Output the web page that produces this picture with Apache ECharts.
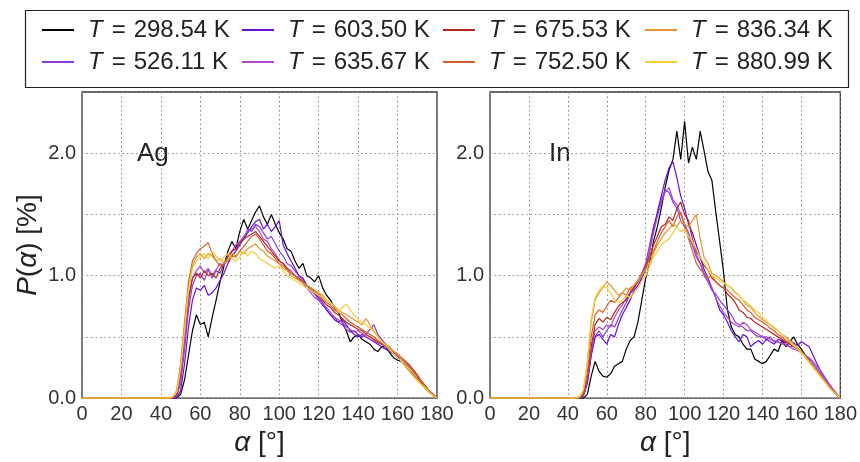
<!DOCTYPE html>
<html>
<head>
<meta charset="utf-8">
<script src="https://cdn.jsdelivr.net/npm/echarts@6/dist/echarts.min.js"></script>
<style>html,body{margin:0;padding:0;background:#fff}#c{width:860px;height:462px}</style>
</head>
<body>
<div id="c"></div>
<script>
// Angle grid (degrees)
const alpha = [0,2,4,6,8,10,12,14,16,18,20,22,24,26,28,30,32,34,36,38,40,42,44,46,48,50,52,54,56,58,60,62,64,66,68,70,72,74,76,78,80,82,84,86,88,90,92,94,96,98,100,102,104,106,108,110,112,114,116,118,120,122,124,126,128,130,132,134,136,138,140,142,144,146,148,150,152,154,156,158,160,162,164,166,168,170,172,174,176,178,180];

const temperatures = ['298.54','526.11','603.50','635.67','675.53','752.50','836.34','880.99'];
const legendRow1 = ['298.54','603.50','675.53','836.34'];
const legendRow2 = ['526.11','635.67','752.50','880.99'];
const colors = ['#000000','#8a3cd6','#6410d8','#b048c8','#b4281c','#d4602e','#e6962c','#f2cf3e'];

const xTicks = [0,20,40,60,80,100,120,140,160,180];
const yTickLabels = ['0.0','1.0','2.0'];

// ---- Ag panel ----
const ag_298 = [0,0,0,0,0,0,0,0,0,0,0,0,0,0,0,0,0,0,0,0,0,0,0,
 0,0,0.03,0.15,0.35,0.55,0.68,0.6,0.62,0.5,
 0.66,0.8,0.95,1.08,1.2,1.28,1.22,1.36,1.46,1.38,
 1.45,1.52,1.57,1.48,1.42,1.5,1.42,1.35,1.3,1.22,
 1.2,1.12,1.06,1.1,1.0,0.98,0.95,1.0,0.9,0.84,
 0.8,0.74,0.7,0.62,0.55,0.46,0.5,0.52,0.48,0.46,
 0.44,0.4,0.38,0.42,0.42,0.37,0.33,0.31,0.3,0.26,
 0.22,0.19,0.16,0.12,0.08,0.05,0.02,0];
const ag_526 = [0,0,0,0,0,0,0,0,0,0,0,0,0,0,0,0,0,0,0,0,0,0,0,
 0,0.01,0.12,0.4,0.72,0.92,1.0,1.02,0.96,1.05,
 0.98,1.04,1.02,1.1,1.15,1.2,1.22,1.28,1.3,1.38,
 1.36,1.42,1.4,1.35,1.3,1.32,1.26,1.2,1.16,1.1,
 1.08,1.04,1.0,0.96,0.92,0.88,0.85,0.8,0.76,0.72,
 0.68,0.66,0.62,0.6,0.56,0.54,0.55,0.52,0.5,0.52,
 0.56,0.6,0.52,0.48,0.44,0.4,0.36,0.34,0.32,0.3,
 0.26,0.22,0.18,0.14,0.1,0.06,0.03,0];
const ag_603 = [0,0,0,0,0,0,0,0,0,0,0,0,0,0,0,0,0,0,0,0,0,0,0,
 0,0,0.06,0.28,0.58,0.8,0.9,0.88,0.92,0.84,
 0.86,0.9,0.96,1.02,1.1,1.16,1.2,1.25,1.3,1.35,
 1.4,1.44,1.46,1.38,1.42,1.36,1.4,1.45,1.25,1.18,
 1.12,1.06,1.0,0.98,0.92,0.9,0.86,0.82,0.78,0.72,
 0.68,0.64,0.62,0.64,0.6,0.55,0.52,0.5,0.52,0.5,
 0.48,0.46,0.44,0.42,0.4,0.38,0.36,0.33,0.32,0.28,
 0.26,0.22,0.18,0.13,0.09,0.06,0.03,0];
const ag_635 = [0,0,0,0,0,0,0,0,0,0,0,0,0,0,0,0,0,0,0,0,0,0,0,
 0,0.02,0.15,0.45,0.78,0.98,1.04,1.08,1.02,1.06,
 1.0,1.05,1.1,1.08,1.15,1.2,1.25,1.28,1.32,1.36,
 1.38,1.4,1.36,1.3,1.28,1.22,1.18,1.12,1.1,1.06,
 1.04,1.0,0.96,0.94,0.9,0.86,0.82,0.8,0.76,0.74,
 0.7,0.66,0.64,0.62,0.58,0.56,0.54,0.55,0.53,0.5,
 0.48,0.47,0.45,0.44,0.42,0.4,0.37,0.35,0.32,0.3,
 0.26,0.22,0.18,0.14,0.1,0.06,0.03,0];
const ag_675 = [0,0,0,0,0,0,0,0,0,0,0,0,0,0,0,0,0,0,0,0,0,0,0,
 0,0.03,0.2,0.52,0.82,0.98,1.02,0.98,1.04,1.0,
 1.02,0.98,1.06,1.1,1.16,1.2,1.22,1.26,1.3,1.32,
 1.34,1.36,1.32,1.28,1.24,1.2,1.16,1.12,1.1,1.06,
 1.02,1.0,0.98,0.95,0.92,0.9,0.86,0.84,0.8,0.76,
 0.74,0.7,0.68,0.65,0.62,0.6,0.58,0.56,0.55,0.52,
 0.5,0.48,0.46,0.44,0.43,0.4,0.38,0.36,0.33,0.3,
 0.27,0.23,0.19,0.14,0.1,0.06,0.03,0];
const ag_752 = [0,0,0,0,0,0,0,0,0,0,0,0,0,0,0,0,0,0,0,0,0,0,0,
 0.01,0.06,0.28,0.62,0.95,1.12,1.18,1.22,1.24,1.27,
 1.18,1.12,1.08,1.1,1.12,1.16,1.15,1.2,1.24,1.28,
 1.32,1.34,1.3,1.25,1.2,1.18,1.14,1.1,1.08,1.05,
 1.02,1.0,0.97,0.95,0.92,0.9,0.88,0.85,0.82,0.78,
 0.76,0.72,0.7,0.68,0.65,0.62,0.6,0.58,0.56,0.54,
 0.52,0.5,0.47,0.45,0.43,0.41,0.38,0.36,0.33,0.3,
 0.26,0.22,0.18,0.14,0.1,0.06,0.03,0];
const ag_836 = [0,0,0,0,0,0,0,0,0,0,0,0,0,0,0,0,0,0,0,0,0,0,0,
 0.01,0.05,0.26,0.58,0.9,1.08,1.15,1.18,1.14,1.18,
 1.16,1.12,1.14,1.1,1.14,1.18,1.16,1.2,1.18,1.22,
 1.24,1.26,1.22,1.2,1.16,1.14,1.12,1.1,1.06,1.04,
 1.0,0.98,0.96,0.94,0.92,0.9,0.88,0.86,0.84,0.8,
 0.78,0.75,0.72,0.7,0.68,0.66,0.64,0.62,0.6,0.65,
 0.6,0.55,0.5,0.46,0.44,0.42,0.38,0.36,0.32,0.28,
 0.24,0.2,0.16,0.12,0.09,0.05,0.02,0];
const ag_880 = [0,0,0,0,0,0,0,0,0,0,0,0,0,0,0,0,0,0,0,0,0,0,0,
 0.01,0.05,0.24,0.55,0.88,1.06,1.12,1.15,1.18,1.14,
 1.2,1.16,1.12,1.15,1.18,1.14,1.12,1.15,1.2,1.16,
 1.2,1.18,1.14,1.12,1.1,1.08,1.06,1.08,1.04,1.0,
 0.98,0.96,0.94,0.92,0.9,0.88,0.86,0.84,0.82,0.8,
 0.78,0.75,0.7,0.74,0.77,0.72,0.68,0.64,0.62,0.6,
 0.57,0.54,0.5,0.46,0.43,0.4,0.36,0.33,0.3,0.26,
 0.22,0.18,0.14,0.11,0.08,0.05,0.02,0];

// ---- In panel ----
const in_298 = [0,0,0,0,0,0,0,0,0,0,0,0,0,0,0,0,0,0,0,0,0,0,0,
 0,0,0.03,0.18,0.3,0.22,0.18,0.17,0.2,0.26,
 0.28,0.3,0.4,0.47,0.5,0.62,0.8,0.98,1.1,1.28,
 1.4,1.55,1.72,1.86,1.95,2.18,1.95,2.26,1.92,2.05,
 1.95,2.18,2.02,1.85,1.78,1.52,1.28,1.03,0.72,0.58,
 0.52,0.5,0.44,0.4,0.4,0.32,0.3,0.28,0.3,0.35,
 0.4,0.38,0.47,0.42,0.46,0.5,0.44,0.4,0.35,0.3,
 0.26,0.22,0.18,0.14,0.1,0.06,0.03,0];
const in_526 = [0,0,0,0,0,0,0,0,0,0,0,0,0,0,0,0,0,0,0,0,0,0,0,
 0,0.02,0.12,0.35,0.5,0.55,0.5,0.55,0.6,0.58,
 0.65,0.72,0.78,0.85,0.9,0.95,1.02,1.1,1.25,1.4,
 1.5,1.62,1.7,1.68,1.6,1.55,1.45,1.4,1.32,1.25,
 1.15,1.1,1.0,0.95,0.88,0.85,0.8,0.76,0.72,0.68,
 0.62,0.6,0.58,0.55,0.55,0.52,0.5,0.5,0.48,0.5,
 0.46,0.46,0.45,0.44,0.42,0.43,0.4,0.38,0.35,0.32,
 0.28,0.24,0.2,0.15,0.11,0.07,0.03,0];
const in_603 = [0,0,0,0,0,0,0,0,0,0,0,0,0,0,0,0,0,0,0,0,0,0,0,
 0,0.02,0.12,0.35,0.5,0.52,0.48,0.44,0.52,0.5,
 0.6,0.68,0.74,0.8,0.88,0.92,0.98,1.05,1.2,1.38,
 1.52,1.65,1.78,1.88,1.93,1.8,1.65,1.55,1.42,1.35,
 1.25,1.15,1.05,0.98,0.9,0.82,0.72,0.68,0.62,0.55,
 0.5,0.46,0.52,0.5,0.42,0.45,0.47,0.44,0.48,0.46,
 0.44,0.48,0.47,0.45,0.47,0.45,0.43,0.46,0.44,0.42,
 0.35,0.28,0.22,0.17,0.12,0.07,0.03,0];
const in_635 = [0,0,0,0,0,0,0,0,0,0,0,0,0,0,0,0,0,0,0,0,0,0,0,
 0,0.02,0.14,0.38,0.55,0.58,0.56,0.6,0.58,0.66,
 0.72,0.76,0.82,0.86,0.92,0.96,1.0,1.08,1.2,1.35,
 1.48,1.6,1.68,1.72,1.62,1.58,1.5,1.42,1.35,1.25,
 1.18,1.1,1.02,0.95,0.9,0.82,0.75,0.7,0.66,0.62,
 0.6,0.58,0.62,0.6,0.56,0.54,0.52,0.5,0.5,0.48,
 0.47,0.46,0.44,0.43,0.42,0.4,0.39,0.37,0.35,0.33,
 0.3,0.26,0.22,0.17,0.12,0.08,0.04,0];
const in_675 = [0,0,0,0,0,0,0,0,0,0,0,0,0,0,0,0,0,0,0,0,0,0,0,
 0,0.03,0.16,0.42,0.6,0.65,0.62,0.66,0.64,0.7,
 0.75,0.78,0.8,0.86,0.9,0.95,1.0,1.08,1.15,1.25,
 1.32,1.4,1.42,1.48,1.45,1.55,1.6,1.5,1.45,1.3,
 1.2,1.15,1.08,1.05,0.98,0.95,0.92,0.9,0.85,0.82,
 0.78,0.72,0.7,0.66,0.65,0.62,0.6,0.58,0.56,0.54,
 0.52,0.5,0.48,0.46,0.44,0.42,0.4,0.37,0.34,0.3,
 0.26,0.22,0.18,0.14,0.1,0.06,0.03,0];
const in_752 = [0,0,0,0,0,0,0,0,0,0,0,0,0,0,0,0,0,0,0,0,0,0,0,
 0.01,0.05,0.2,0.5,0.68,0.72,0.7,0.75,0.8,0.78,
 0.82,0.86,0.84,0.9,0.92,0.96,1.02,1.06,1.14,1.2,
 1.28,1.35,1.4,1.45,1.4,1.48,1.52,1.42,1.3,1.2,
 1.1,1.05,1.02,0.98,1.0,0.95,0.92,0.9,0.88,0.85,
 0.82,0.8,0.76,0.72,0.7,0.66,0.64,0.62,0.6,0.57,
 0.55,0.52,0.5,0.47,0.45,0.43,0.4,0.38,0.34,0.3,
 0.26,0.22,0.18,0.14,0.1,0.06,0.03,0];
const in_836 = [0,0,0,0,0,0,0,0,0,0,0,0,0,0,0,0,0,0,0,0,0,0,0,
 0.01,0.06,0.28,0.62,0.8,0.86,0.9,0.95,0.92,0.88,
 0.84,0.86,0.9,0.88,0.92,0.96,1.0,1.05,1.1,1.18,
 1.25,1.3,1.35,1.38,1.42,1.4,1.45,1.42,1.4,1.45,
 1.5,1.3,1.15,1.1,1.02,1.0,0.98,0.95,0.92,0.9,
 0.86,0.84,0.8,0.76,0.74,0.7,0.67,0.64,0.62,0.6,
 0.57,0.55,0.52,0.5,0.47,0.44,0.41,0.38,0.34,0.3,
 0.26,0.22,0.18,0.14,0.1,0.06,0.03,0];
const in_880 = [0,0,0,0,0,0,0,0,0,0,0,0,0,0,0,0,0,0,0,0,0,0,0,
 0.01,0.07,0.3,0.65,0.82,0.88,0.92,0.9,0.86,0.8,
 0.78,0.8,0.84,0.82,0.86,0.9,0.95,1.0,1.08,1.15,
 1.2,1.25,1.28,1.3,1.35,1.4,1.36,1.38,1.32,1.28,
 1.22,1.15,1.1,1.05,1.0,0.98,0.96,0.94,0.92,0.9,
 0.87,0.84,0.8,0.78,0.75,0.72,0.7,0.66,0.63,0.6,
 0.58,0.55,0.52,0.49,0.46,0.43,0.4,0.37,0.33,0.29,
 0.25,0.21,0.17,0.13,0.09,0.06,0.03,0];

const agData = [ag_298, ag_526, ag_603, ag_635, ag_675, ag_752, ag_836, ag_880];
const inData = [in_298, in_526, in_603, in_635, in_675, in_752, in_836, in_880];

const FONT = '"Liberation Sans", Arial, sans-serif';

const chart = echarts.init(document.getElementById('c'), null, {renderer: 'canvas'});

function xAxisOpt(gi) {
  return {
    gridIndex: gi, type: 'value', min: 0, max: 180, interval: 20,
    axisLine: {show: false}, axisTick: {show: false},
    axisLabel: {fontFamily: FONT, fontSize: 20, color: '#333', margin: 6,
      formatter: v => xTicks.indexOf(v) >= 0 ? String(v) : ''},
    splitLine: {show: true, lineStyle: {color: '#8a8a8a', type: [1.5, 3], width: 1}},
    name: '{i|α} [°]', nameLocation: 'middle', nameGap: 28,
    nameTextStyle: {fontFamily: FONT, fontSize: 28, color: '#222',
      rich: {i: {fontFamily: FONT, fontSize: 28, fontStyle: 'italic', color: '#222'}}}
  };
}
function yAxisOpt(gi, withName) {
  const o = {
    gridIndex: gi, type: 'value', min: 0, max: 2.5, interval: 0.5,
    axisLine: {show: false}, axisTick: {show: false},
    axisLabel: {fontFamily: FONT, fontSize: 20, color: '#333', margin: 6,
      formatter: v => { const s = v.toFixed(1); return yTickLabels.indexOf(s) >= 0 ? s : ''; }},
    splitLine: {show: true, lineStyle: {color: '#8a8a8a', type: [1.5, 3], width: 1}}
  };
  if (withName) {
    o.name = '{i|P}({i|α}) [%]';
    o.nameLocation = 'middle';
    o.nameGap = 40;
    o.nameTextStyle = {fontFamily: FONT, fontSize: 28, color: '#222',
      rich: {i: {fontFamily: FONT, fontSize: 28, fontStyle: 'italic', color: '#222'}}};
  }
  return o;
}

const series = [];
temperatures.forEach((t, k) => {
  series.push({name: t, type: 'line', xAxisIndex: 0, yAxisIndex: 0, showSymbol: false, symbol: 'none',
    lineStyle: {width: 1.2, color: colors[k]}, itemStyle: {color: colors[k]}, animation: false,
    data: alpha.map((a, i) => [a, agData[k][i]])});
  series.push({name: t, type: 'line', xAxisIndex: 1, yAxisIndex: 1, showSymbol: false, symbol: 'none',
    lineStyle: {width: 1.2, color: colors[k]}, itemStyle: {color: colors[k]}, animation: false,
    data: alpha.map((a, i) => [a, inData[k][i]])});
});

const colLeft = [42, 242, 443, 645];
const rowTop = [16, 48];
const legends = [];
[legendRow1, legendRow2].forEach((row, r) => {
  row.forEach((name, c) => {
    legends.push({
      data: [name], left: colLeft[c], top: rowTop[r], padding: 0,
      itemWidth: 32, itemHeight: 2, icon: 'rect', selectedMode: false,
      textStyle: {fontFamily: FONT, fontSize: 24, color: '#222', lineHeight: 28,
        rich: {
          it: {fontFamily: FONT, fontSize: 24, fontStyle: 'italic', color: '#222', padding: [0, 0, 0, 9]},
          eq: {fontFamily: FONT, fontSize: 24, color: '#222', padding: [0, 8, 0, 9]},
          n: {fontFamily: FONT, fontSize: 24, color: '#222'}
        }},
      formatter: nm => '{it|T}{eq|=}{n|' + nm + ' K}'
    });
  });
});

chart.setOption({
  animation: false,
  backgroundColor: '#fff',
  legend: legends,
  grid: [
    {left: 82, top: 92, width: 355, height: 312, show: true, borderColor: '#333', borderWidth: 1.3, backgroundColor: 'transparent'},
    {left: 490, top: 92, width: 355, height: 312, show: true, borderColor: '#333', borderWidth: 1.3, backgroundColor: 'transparent'}
  ],
  xAxis: [xAxisOpt(0), xAxisOpt(1)],
  yAxis: [yAxisOpt(0, true), yAxisOpt(1, false)],
  series: series,
  graphic: [
    {type: 'rect', left: 23, top: 8, shape: {width: 823, height: 77},
      style: {fill: 'none', stroke: '#222', lineWidth: 1.2}, silent: true},
    {type: 'text', left: 137, top: 141, style: {text: 'Ag', fontFamily: FONT, fontSize: 26, fill: '#222'}},
    {type: 'text', left: 549, top: 141, style: {text: 'In', fontFamily: FONT, fontSize: 26, fill: '#222'}}
  ]
});
</script>
</body>
</html>
